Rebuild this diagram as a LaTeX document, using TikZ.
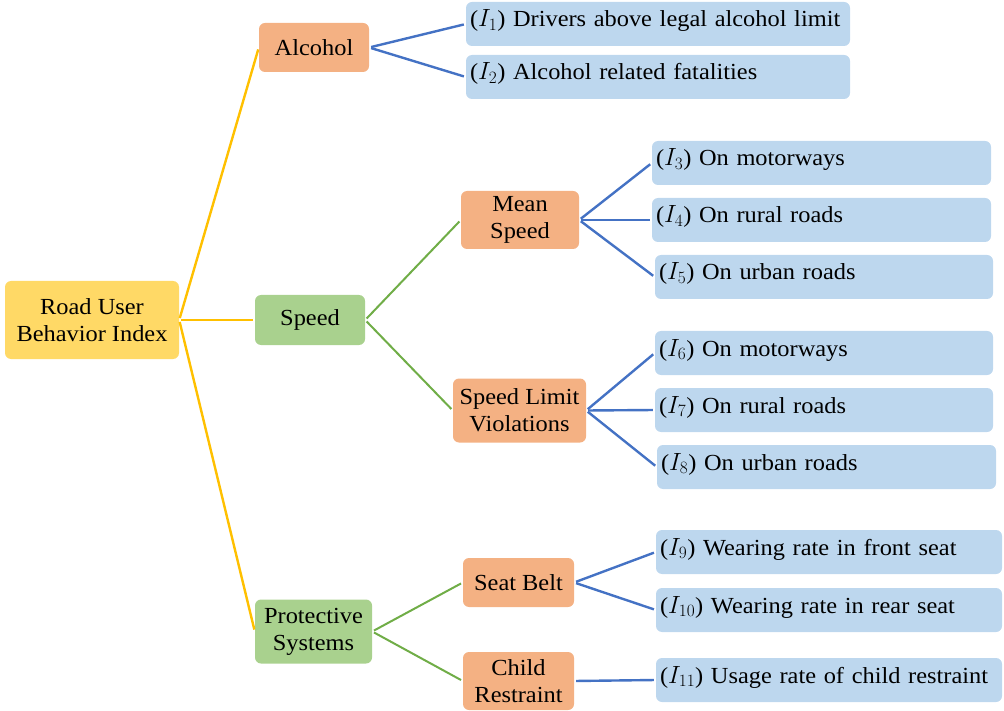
\documentclass[tikz,border=0pt]{standalone}
\usepackage{fontspec}
\setmainfont{Liberation Serif}[FakeStretch=1.06]
\begin{document}
\begin{tikzpicture}[x=1pt,y=-1pt,
  font=\fontsize{23}{27}\selectfont,
  base/.style={rectangle, rounded corners=6pt, inner sep=0pt, align=center},
  rootbox/.style={base, fill=rootfill},
  catbox/.style={base, fill=catfill},
  subbox/.style={base, fill=subfill},
  leafbox/.style={base, fill=leaffill, align=left, text height=15pt, text depth=9pt},
  yl/.style={draw=ylink, line width=2.4pt, shorten <=2pt, shorten >=2pt},
  gl/.style={draw=glink, line width=2pt, shorten <=2pt, shorten >=2pt},
  bl/.style={draw=blink, line width=2.4pt, shorten <=2pt, shorten >=2pt},
]
\definecolor{rootfill}{HTML}{FFD966}
\definecolor{catfill}{HTML}{A9D18E}
\definecolor{subfill}{HTML}{F4B183}
\definecolor{leaffill}{HTML}{BDD7EE}
\definecolor{ylink}{HTML}{FFC000}
\definecolor{glink}{HTML}{70AD47}
\definecolor{blink}{HTML}{4472C4}
\useasboundingbox (0,0) rectangle (1004,711);

\node[rootbox, minimum width=174pt, minimum height=78pt] (root) at (92,320) {Road User\\Behavior Index};

\node[subbox, minimum width=110pt, minimum height=49pt] (alc) at (314,47.5) {Alcohol};
\node[catbox, minimum width=110pt, minimum height=50pt] (spd) at (310,320) {Speed};
\node[catbox, minimum width=117pt, minimum height=64pt] (prot) at (313.5,631.5) {Protective\\Systems};

\node[subbox, minimum width=118pt, minimum height=58pt] (mean) at (520,220) {Mean\\Speed};
\node[subbox, minimum width=133pt, minimum height=64pt] (slv) at (519.5,410.5) {Speed Limit\\Violations};
\node[subbox, minimum width=111pt, minimum height=49pt] (belt) at (518.5,582.5) {Seat Belt};
\node[subbox, minimum width=111pt, minimum height=58pt] (child) at (518.5,681) {Child\\Restraint};

\node[leafbox, minimum width=384pt, minimum height=44pt, text width=376pt] (i1) at (658,24) {($I_1$) Drivers above legal alcohol limit};
\node[leafbox, minimum width=384pt, minimum height=44pt, text width=376pt] (i2) at (658,77) {($I_2$) Alcohol related fatalities};
\node[leafbox, minimum width=339pt, minimum height=44pt, text width=331pt] (i3) at (821.5,163) {($I_3$) On motorways};
\node[leafbox, minimum width=339pt, minimum height=44pt, text width=331pt] (i4) at (821.5,220) {($I_4$) On rural roads};
\node[leafbox, minimum width=338pt, minimum height=44pt, text width=330pt] (i5) at (824,277) {($I_5$) On urban roads};
\node[leafbox, minimum width=338pt, minimum height=44pt, text width=330pt] (i6) at (824,353) {($I_6$) On motorways};
\node[leafbox, minimum width=338pt, minimum height=44pt, text width=330pt] (i7) at (824,410) {($I_7$) On rural roads};
\node[leafbox, minimum width=339pt, minimum height=44pt, text width=331pt] (i8) at (826.5,467) {($I_8$) On urban roads};
\node[leafbox, minimum width=346pt, minimum height=44pt, text width=338pt] (i9) at (829,552) {($I_9$) Wearing rate in front seat};
\node[leafbox, minimum width=346pt, minimum height=44pt, text width=338pt] (i10) at (829,610) {($I_{10}$) Wearing rate in rear seat};
\node[leafbox, minimum width=346pt, minimum height=44pt, text width=338pt] (i11) at (829,680) {($I_{11}$) Usage rate of child restraint};

\draw[yl] (root.east) -- (alc.west);
\draw[yl] (root.east) -- (spd.west);
\draw[yl] (root.east) -- (prot.west);

\draw[bl] (alc.east) -- (i1.west);
\draw[bl] (alc.east) -- (i2.west);

\draw[gl] (spd.east) -- (mean.west);
\draw[gl] (spd.east) -- (slv.west);
\draw[bl] (mean.east) -- (i3.west);
\draw[bl] (mean.east) -- (i4.west);
\draw[bl] (mean.east) -- (i5.west);
\draw[bl] (slv.east) -- (i6.west);
\draw[bl] (slv.east) -- (i7.west);
\draw[bl] (slv.east) -- (i8.west);

\draw[gl] (prot.east) -- (belt.west);
\draw[gl] (prot.east) -- (child.west);
\draw[bl] (belt.east) -- (i9.west);
\draw[bl] (belt.east) -- (i10.west);
\draw[bl] (child.east) -- (i11.west);
\end{tikzpicture}
\end{document}
